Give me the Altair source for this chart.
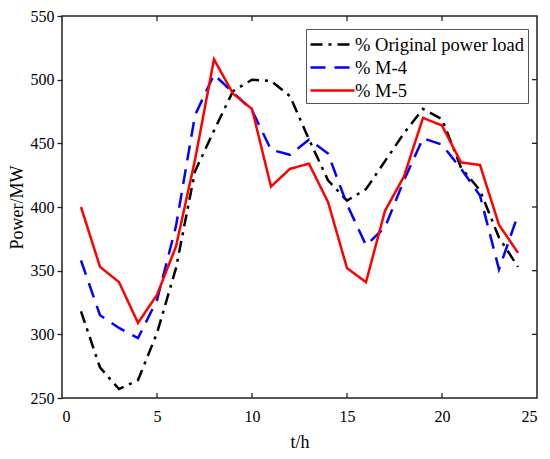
import altair as alt
import pandas as pd

hours = list(range(1, 25))
series_names = ["% Original power load", "% M-4", "% M-5"]
original = [318, 274, 257, 264, 301, 352, 428, 460, 491, 500, 499, 487,
            453, 421, 405, 414, 436, 458, 477, 469, 431, 413, 376, 353]
m4 = [358, 315, 305, 297, 327, 385, 472, 504, 490, 476, 445, 441,
      453, 442, 402, 370, 384, 421, 454, 449, 430, 409, 351, 394]
m5 = [400, 353, 341, 309, 331, 369, 437, 516, 489, 477, 416, 430,
      434, 404, 352, 341, 397, 424, 470, 464, 435, 433, 386, 364]

x_ticks = [0, 5, 10, 15, 20, 25]
y_ticks = [250, 300, 350, 400, 450, 500, 550]

rows = []
for name, vals in zip(series_names, [original, m4, m5]):
    for h, v in zip(hours, vals):
        rows.append({"t": h, "power": v, "series": name, "order": series_names.index(name)})
df = pd.DataFrame(rows)

W, H = 475, 382
FONT = "Liberation Serif"

xscale = alt.Scale(domain=[0, 25], nice=False, zero=False)
yscale = alt.Scale(domain=[250, 550], nice=False, zero=False)

legend = alt.Legend(
    title=None, orient="none", legendX=244, legendY=13,
    strokeColor="#555", fillColor="white", padding=3,
    labelFont=FONT, labelFontSize=18.5, labelColor="black", labelOffset=21, labelLimit=400,
    symbolType="M-1,0H3", symbolSize=484, symbolStrokeWidth=2.5, rowPadding=1,
)

lines = alt.Chart(df).mark_line(strokeWidth=2.5).encode(
    x=alt.X("t:Q", scale=xscale,
            axis=alt.Axis(values=x_ticks, title="t/h", ticks=False, domain=False, grid=False,
                          labelPadding=10, titlePadding=9, format="d")),
    y=alt.Y("power:Q", scale=yscale,
            axis=alt.Axis(values=y_ticks, title="Power/MW", ticks=True, tickSize=5, domain=False,
                          grid=False, labelPadding=3, titlePadding=4, format="d")),
    color=alt.Color("series:N", sort=series_names,
                    scale=alt.Scale(domain=series_names, range=["black", "#0000ff", "#ff0000"]),
                    legend=legend),
    strokeDash=alt.StrokeDash("series:N", sort=series_names,
                              scale=alt.Scale(domain=series_names,
                                              range=[[12, 6, 3, 6], [15, 9], [1, 0]]),
                              legend=legend),
    order=alt.Order("order:Q"),
)

tick_df = pd.DataFrame({"v": [5, 10, 15, 20]})
ytick_df = pd.DataFrame({"v": [300, 350, 400, 450, 500]})

bottom_ticks = alt.Chart(tick_df).mark_rule(color="#222", strokeWidth=1.3).encode(
    x=alt.X("v:Q", scale=xscale), y=alt.value(H), y2=alt.value(H - 5))
top_ticks = alt.Chart(tick_df).mark_rule(color="#222", strokeWidth=1.3).encode(
    x=alt.X("v:Q", scale=xscale), y=alt.value(0), y2=alt.value(5))
right_ticks = alt.Chart(ytick_df).mark_rule(color="#222", strokeWidth=1.3).encode(
    y=alt.Y("v:Q", scale=yscale), x=alt.value(W - 5), x2=alt.value(W))

chart = alt.layer(lines, bottom_ticks, top_ticks, right_ticks).properties(
    width=W, height=H,
    autosize=alt.AutoSizeParams(type="none"),
    padding={"left": 54, "top": 8, "right": 5, "bottom": 61},
).configure_view(
    stroke="#222", strokeWidth=1.5
).configure_axis(
    labelFont=FONT, labelFontSize=16, labelColor="black",
    titleFont=FONT, titleFontSize=18, titleFontWeight="normal", titleColor="black",
    tickColor="#222", tickWidth=1.3,
)

chart.save("out.html", embed_options={"renderer": "svg", "actions": False})
